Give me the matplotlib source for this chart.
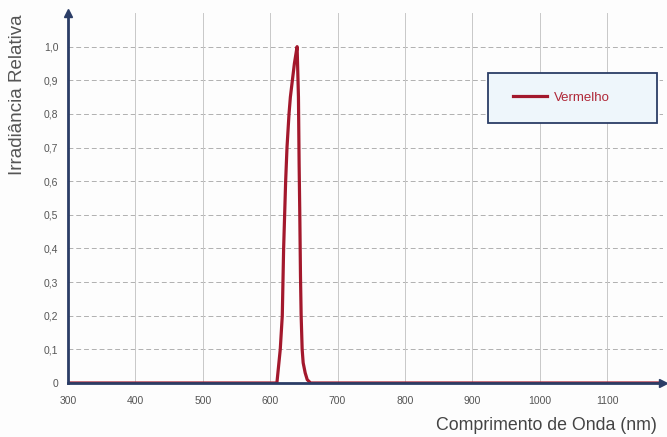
import numpy as np
import matplotlib.pyplot as plt
from matplotlib.patches import Rectangle

# spectrum (nm, relative irradiance)
wavelength = [300, 600, 610, 612, 615, 618, 620, 623, 625, 628, 630, 633, 636, 640,
              642, 643, 644, 645, 646, 647.5, 649, 652, 655, 660, 700, 1180]
irradiance = [0, 0, 0, 0.04, 0.1, 0.2, 0.4, 0.6, 0.7, 0.8, 0.85, 0.9, 0.95, 1.0,
              0.85, 0.65, 0.5, 0.32, 0.2, 0.1, 0.06, 0.03, 0.01, 0, 0, 0]

x_ticks = [300, 400, 500, 600, 700, 800, 900, 1000, 1100]
y_ticks = [0, 0.1, 0.2, 0.3, 0.4, 0.5, 0.6, 0.7, 0.8, 0.9, 1.0]
y_labels = ['0', '0,1', '0,2', '0,3', '0,4', '0,5', '0,6', '0,7', '0,8', '0,9', '1,0']

plt.rcParams['font.family'] = ['Liberation Sans', 'DejaVu Sans']

navy = '#2b3d66'
red = '#a3182c'
fig = plt.figure(figsize=(6.67, 4.37), dpi=100)
fig.patch.set_facecolor('#fdfdfd')
ax = fig.add_axes([68 / 667, 54 / 437, 595 / 667, 370 / 437])
ax.set_facecolor('#fdfdfd')

ax.plot(wavelength, irradiance, color=red, lw=2.3, label='Vermelho',
        solid_joinstyle='round')

ax.set_xlim(300, 1183)
ax.set_ylim(0, 1.1)
ax.set_xticks(x_ticks)
ax.set_yticks(y_ticks)
ax.set_yticklabels(y_labels)
ax.tick_params(length=0, labelsize=7.5, labelcolor='#555555')
ax.tick_params(axis='x', pad=9)
ax.tick_params(axis='y', pad=7)

for v in y_ticks[1:]:
    ax.axhline(v, color='#b0b0b0', lw=0.7, ls=(0, (5, 3)), zorder=0)
for v in x_ticks[1:]:
    ax.axvline(v, color='#c8c8c8', lw=0.7, zorder=0)

for s in ['top', 'right']:
    ax.spines[s].set_visible(False)
for s in ['left', 'bottom']:
    ax.spines[s].set_color(navy)
    ax.spines[s].set_linewidth(2)
ax.plot(1, 0, '>', color=navy, ms=6, transform=ax.transAxes, clip_on=False)
ax.plot(0, 1, '^', color=navy, ms=6, transform=ax.transAxes, clip_on=False)

fig.text(18 / 667, 1 - 95 / 437, 'Irradiância Relativa', rotation=90,
         ha='center', va='center', fontsize=13.5, color='#555555')
fig.text(436 / 667, 1 - 425 / 437, 'Comprimento de Onda (nm)',
         ha='left', va='center', fontsize=12.8, color='#444444')

# legend box drawn by hand to match its size
ax.add_patch(Rectangle((488 / 667, 1 - 123 / 437), 169 / 667, 50 / 437,
                       transform=fig.transFigure, facecolor='#eef6fb',
                       edgecolor=navy, lw=1.3, zorder=5, clip_on=False))
leg = ax.legend(loc='center left', bbox_to_anchor=((501 - 68) / 595, (383 - 98) / 370),
                frameon=False, fontsize=9.5, handlelength=2.6, handletextpad=0.5,
                labelcolor='#b02838')
leg.set_zorder(6)

fig.savefig('out.png', dpi=100, facecolor=fig.get_facecolor())
